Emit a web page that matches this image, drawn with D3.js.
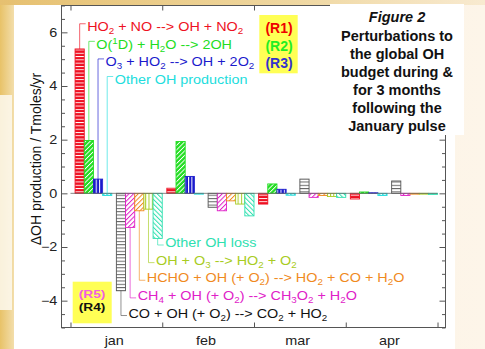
<!DOCTYPE html>
<html>
<head>
<meta charset="utf-8">
<script src="https://cdn.jsdelivr.net/npm/d3@7"></script>
<style>
  html, body { margin: 0; padding: 0; background: #fdf6ea; }
  svg { display: block; font-family: "Liberation Sans", Arial, Helvetica, sans-serif; }
</style>
</head>
<body>
<svg id="chart" width="485" height="349"></svg>
<script>
// ---- data (Tmoles/yr, one value per month) ----
const months = ["jan", "feb", "mar", "apr"];
const seriesLabels = [
  "HO_2 + NO --> OH + NO_2",
  "O(^1D) + H_2O --> 2OH",
  "O_3 + HO_2 --> OH + 2O_2",
  "Other OH production",
  "CO + OH (+ O_2) --> CO_2 + HO_2",
  "CH_4 + OH (+ O_2) --> CH_3O_2 + H_2O",
  "HCHO + OH (+ O_2) --> HO_2 + CO + H_2O",
  "OH + O_3 --> HO_2 + O_2",
  "Other OH loss"
];
const ho2No     = [5.38, 0.19, -0.40, -0.21];
const o1dH2o    = [1.97, 1.93, 0.35, 0.05];
const o3Ho2     = [0.53, 0.63, 0.15, 0.02];
const otherProd = [-0.08, -0.03, -0.07, -0.08];
const coOh      = [-3.63, -0.52, 0.53, 0.46];
const ch4Oh     = [-1.27, -0.65, -0.15, -0.08];
const hchoOh    = [-0.65, -0.28, -0.08, -0.03];
const ohO3      = [-0.59, -0.40, -0.12, -0.03];
const otherLoss = [-1.68, -0.84, -0.15, -0.04];
const seriesValues = [ho2No, o1dH2o, o3Ho2, otherProd, coOh, ch4Oh, hchoOh, ohO3, otherLoss];
const yTicks = [-4, -2, 0, 2, 4, 6];
const titleLines = ["Perturbations to", "the global OH", "budget during &", "for 3 months", "following the", "January pulse"];

// ---- styles ----
const styles = [
  { color: "#ee1122", bg: "#ee1122", fg: "#fff",    angle: 90,  gap: 3.3, lw: 0.9 },
  { color: "#22dd22", bg: "#22dd22", fg: "#fff",    angle: 45,  gap: 3.2, lw: 0.9 },
  { color: "#1a1acc", bg: "#1a1acc", fg: "#fff",    angle: 0,   gap: 3.3, lw: 1.0 },
  { color: "#22dddd", bg: "#fff",    fg: "#22dddd", angle: -45, gap: 2.6, lw: 1.3 },
  { color: "#555555", bg: "#fff",    fg: "#666",    angle: 90,  gap: 3.3, lw: 1.0, text: "#111" },
  { color: "#e020c8", bg: "#fff",    fg: "#e020c8", angle: 45,  gap: 3.3, lw: 1.0 },
  { color: "#f08a1e", bg: "#fff",    fg: "#f08a1e", angle: 45,  gap: 3.3, lw: 1.0 },
  { color: "#a8cc22", bg: "#fff",    fg: "#a8cc22", angle: 0,   gap: 3.3, lw: 1.0 },
  { color: "#2ee0b0", bg: "#fff",    fg: "#2ee0b0", angle: -45, gap: 3.3, lw: 1.0 }
];
const slotOffset = [0.05, 0.15, 0.25, 0.35, 0.5, 0.6, 0.7, 0.8, 0.9];
const slotW = 0.1;
const SX = 1.2; // original figure was stretched horizontally

const svg = d3.select("#chart");
const defs = svg.append("defs");

// background slide
const bgGrad = defs.append("linearGradient").attr("id", "bgGrad").attr("x1", 0).attr("x2", 1);
bgGrad.append("stop").attr("offset", "0%").attr("stop-color", "#e8c268");
bgGrad.append("stop").attr("offset", "3%").attr("stop-color", "#f3dfae");
bgGrad.append("stop").attr("offset", "12%").attr("stop-color", "#fbf1dd");
bgGrad.append("stop").attr("offset", "100%").attr("stop-color", "#fdf5e9");
const topGrad = defs.append("linearGradient").attr("id", "topGrad").attr("x1", 0).attr("x2", 1);
topGrad.append("stop").attr("offset", "0%").attr("stop-color", "#e6c070");
topGrad.append("stop").attr("offset", "60%").attr("stop-color", "#efd7a0");
topGrad.append("stop").attr("offset", "100%").attr("stop-color", "#f8ead0");

svg.append("rect").attr("width", 485).attr("height", 349).attr("fill", "url(#bgGrad)");
svg.append("rect").attr("width", 485).attr("height", 5).attr("fill", "url(#topGrad)");
svg.append("rect").attr("x", 0).attr("y", 95).attr("width", 12).attr("height", 215)
  .attr("fill", "#fdf9f0").attr("opacity", 0.85);
svg.append("rect").attr("x", 14).attr("y", 5).attr("width", 441).attr("height", 344).attr("fill", "#fff");

// patterns
styles.forEach((s, i) => {
  const p = defs.append("pattern")
    .attr("id", "pat" + i)
    .attr("patternUnits", "userSpaceOnUse")
    .attr("width", s.gap).attr("height", s.gap)
    .attr("patternTransform", `rotate(${s.angle})`);
  p.append("rect").attr("width", s.gap).attr("height", s.gap).attr("fill", s.bg);
  p.append("rect").attr("width", s.lw).attr("height", s.gap).attr("fill", s.fg);
});

// scales
const x = d3.scaleLinear().domain([-0.098, 4.087]).range([61.5, 445.5]);
const y = d3.scaleLinear().domain([-5, 7]).range([327.5, 5.5]);

// bars
const bars = [];
seriesValues.forEach((vals, i) => vals.forEach((v, m) => bars.push({ i, m, v })));

svg.append("g").selectAll("rect")
  .data(bars)
  .join("rect")
  .attr("x", d => x(d.m + slotOffset[d.i]))
  .attr("width", x(slotW) - x(0))
  .attr("y", d => y(Math.max(d.v, 0)))
  .attr("height", d => Math.max(Math.abs(y(d.v) - y(0)), 0.5))
  .attr("fill", d => `url(#pat${d.i})`)
  .attr("stroke", d => styles[d.i].color)
  .attr("stroke-width", 0.9);

// zero line
svg.append("line")
  .attr("x1", x(0)).attr("x2", x(4))
  .attr("y1", y(0)).attr("y2", y(0))
  .attr("stroke", "#666").attr("stroke-width", 0.8);

// axes
const axisColor = "#555";
function styleAxis(g) {
  g.select(".domain").remove();
  g.selectAll(".tick line").attr("stroke", axisColor);
}
const minorVals = d3.range(-5, 7.01, 0.5).filter(v => v % 2 !== 0);

const left = svg.append("g").attr("transform", `translate(${x.range()[0]},0)`);
left.call(d3.axisLeft(y).tickValues(yTicks).tickSize(-6).tickPadding(3.5).tickFormat(d3.format("d")))
  .call(styleAxis);
left.selectAll(".tick text")
  .attr("font-size", 12).attr("fill", "#222")
  .attr("font-family", "Liberation Sans, Arial, sans-serif")
  .attr("transform", `scale(${SX},1)`);
left.append("g").call(d3.axisLeft(y).tickValues(minorVals).tickSize(-3.5).tickFormat("")).call(styleAxis);

const right = svg.append("g").attr("transform", `translate(${x.range()[1]},0)`);
right.call(d3.axisRight(y).tickValues(yTicks).tickSize(-6).tickFormat("")).call(styleAxis);
right.append("g").call(d3.axisRight(y).tickValues(minorVals).tickSize(-3.5).tickFormat("")).call(styleAxis);

svg.append("g").attr("transform", `translate(0,${y.range()[0]})`)
  .call(d3.axisBottom(x).tickValues([0, 1, 2, 3, 4]).tickSize(-5).tickFormat(""))
  .call(styleAxis);
svg.append("g").attr("transform", `translate(0,${y.range()[1]})`)
  .call(d3.axisTop(x).tickValues([0, 1, 2, 3, 4]).tickSize(-5).tickFormat(""))
  .call(styleAxis);

const monthAxis = svg.append("g").attr("transform", `translate(0,${y.range()[0]})`)
  .call(d3.axisBottom(x).tickValues(months.map((_, i) => i + 0.5)).tickSize(0).tickPadding(8.8)
    .tickFormat((d, i) => months[i]));
monthAxis.select(".domain").remove();
monthAxis.selectAll(".tick text")
  .attr("font-size", 12).attr("fill", "#222")
  .attr("font-family", "Liberation Sans, Arial, sans-serif")
  .attr("dx", -2.2)
  .attr("transform", `scale(${SX},1)`);

// frame
svg.append("rect")
  .attr("x", x.range()[0]).attr("y", y.range()[1])
  .attr("width", x.range()[1] - x.range()[0]).attr("height", y.range()[0] - y.range()[1])
  .attr("fill", "none").attr("stroke", axisColor).attr("stroke-width", 1);

// y title
svg.append("text")
  .attr("transform", "translate(40.5,159) rotate(-90)")
  .attr("text-anchor", "middle")
  .attr("font-size", 14).attr("fill", "#111")
  .text("\u0394OH production / Tmoles/yr");

// rich text helper: "_c" subscript, "^c" superscript
function richText(t, str, size) {
  let shift = 0;
  str.split(/([_^].)/).forEach(p => {
    if (!p) return;
    if (p[0] === "_" || p[0] === "^") {
      const d = p[0] === "_" ? 3 : -4.5;
      t.append("tspan").attr("font-size", size * 0.68).attr("dy", d - shift).text(p[1]);
      shift = d;
    } else {
      t.append("tspan").attr("dy", -shift).text(p);
      shift = 0;
    }
  });
}

// leader lines + reaction labels (january bars)
const labelSize = 12;
seriesValues.forEach((vals, i) => {
  const v = vals[0];
  const xc = x(slotOffset[i] + slotW / 2);
  const pos = i < 4;
  const base = pos ? y(6.04 - i * 0.655) : y(-2.0 - (8 - i) * 0.657);
  const corner = pos ? base - 7.5 : base - 2;
  const y0 = pos ? y(Math.max(v, 0)) : y(Math.min(v, 0));
  svg.append("path")
    .attr("d", `M${xc},${y0}V${corner}H${xc + 6}`)
    .attr("fill", "none")
    .attr("stroke", styles[i].color)
    .attr("stroke-opacity", 0.65)
    .attr("stroke-width", 1);
  const t = svg.append("text")
    .attr("transform", `translate(${xc + 7.5},${base}) scale(${SX},1)`)
    .attr("font-size", labelSize)
    .attr("fill", styles[i].text || styles[i].color);
  richText(t, seriesLabels[i], labelSize);
});

// reaction tags
svg.append("rect").attr("x", 259.3).attr("y", 15).attr("width", 38.4).attr("height", 58.3).attr("fill", "#ffff55");
[["(R1)", "#ee0000"], ["(R2)", "#22ee22"], ["(R3)", "#3333cc"]].forEach((r, k) => {
  svg.append("text").attr("x", 279).attr("y", 33.3 + k * 17.4)
    .attr("text-anchor", "middle").attr("font-size", 14).attr("font-weight", "bold")
    .attr("fill", r[1]).text(r[0]);
});
svg.append("rect").attr("x", 72.7).attr("y", 281.7).attr("width", 39).attr("height", 41.6).attr("fill", "#ffff55");
[["(R5)", "#f060e0"], ["(R4)", "#111"]].forEach((r, k) => {
  svg.append("text").attr("transform", `translate(92,${298.2 + k * 13}) scale(${SX},1)`)
    .attr("text-anchor", "middle").attr("font-size", 11.4).attr("font-weight", "bold")
    .attr("fill", r[1]).text(r[0]);
});

// figure caption box
svg.append("rect").attr("x", 330).attr("y", 4).attr("width", 134).attr("height", 131).attr("fill", "#fff");
svg.append("text").attr("x", 397).attr("y", 22.3)
  .attr("text-anchor", "middle").attr("font-size", 14.5)
  .attr("font-weight", "bold").attr("font-style", "italic").attr("fill", "#111")
  .text("Figure 2");
svg.append("g").selectAll("text")
  .data(titleLines)
  .join("text")
  .attr("x", 397).attr("y", (d, k) => 40.7 + k * 18.02)
  .attr("text-anchor", "middle").attr("font-size", 14.5)
  .attr("font-weight", "bold").attr("fill", "#111")
  .text(d => d);
</script>
</body>
</html>
